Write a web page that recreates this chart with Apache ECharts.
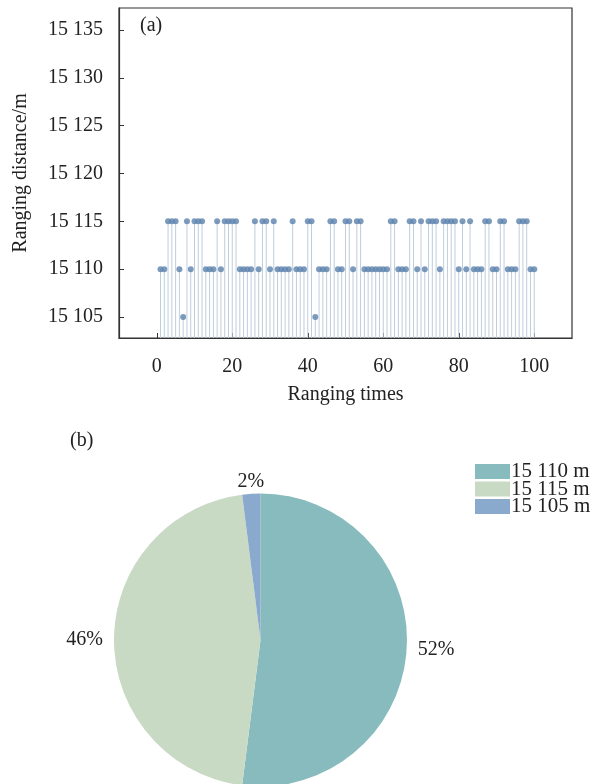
<!DOCTYPE html>
<html>
<head>
<meta charset="utf-8">
<script src="https://cdn.jsdelivr.net/npm/echarts@6/dist/echarts.min.js"></script>
<style>
html,body{margin:0;padding:0;background:#fff;}
#chart{width:604px;height:784px;}
</style>
</head>
<body>
<div id="chart"></div>
<script>
// ---- data (a) ----
var distances = [
  15110,15110,15115,15115,15115,15110,15105,15115,15110,15115,
  15115,15115,15110,15110,15110,15115,15110,15115,15115,15115,
  15115,15110,15110,15110,15110,15115,15110,15115,15115,15110,
  15115,15110,15110,15110,15110,15115,15110,15110,15110,15115,
  15115,15105,15110,15110,15110,15115,15115,15110,15110,15115,
  15115,15110,15115,15115,15110,15110,15110,15110,15110,15110,
  15110,15115,15115,15110,15110,15110,15115,15115,15110,15115,
  15110,15115,15115,15115,15110,15115,15115,15115,15115,15110,
  15115,15110,15115,15110,15110,15110,15115,15115,15110,15110,
  15115,15115,15110,15110,15110,15115,15115,15115,15110,15110
];
var yTicks = [15105,15110,15115,15120,15125,15130,15135];
var xTicks = [0,20,40,60,80,100];

// ---- data (b) ----
var pieNames = ['15 110 m','15 115 m','15 105 m'];
var pieValues = [52,46,2];
var pieColors = ['#88bbbe','#c9dac4','#8aaacd'];

var FONT = 'Liberation Serif, Times New Roman, serif';
var points = distances.map(function(v,i){ return [i+1, v]; });
var yMin = 15102.8, yMax = 15137.3;

var chart = echarts.init(document.getElementById('chart'), null, {renderer:'canvas'});
chart.setOption({
  animation:false,
  backgroundColor:'#fff',
  textStyle:{fontFamily:FONT},
  grid:{left:119, right:32, top:8, bottom:446, show:true, borderColor:'#333', borderWidth:1.2, backgroundColor:'transparent'},
  xAxis:{
    type:'value', min:-10, max:110,
    name:'Ranging times', nameLocation:'middle', nameGap:47,
    nameTextStyle:{fontFamily:FONT, fontSize:20, color:'#222'},
    axisLine:{show:true, onZero:false, lineStyle:{color:'#333', width:1.2}},
    axisTick:{show:true, inside:true, length:5, customValues:xTicks, lineStyle:{color:'#333'}},
    axisLabel:{customValues:xTicks, margin:19, fontFamily:FONT, fontSize:20, color:'#222'},
    splitLine:{show:false}
  },
  yAxis:{
    type:'value', min:yMin, max:yMax,
    name:'Ranging distance/m', nameLocation:'middle', nameGap:88,
    nameTextStyle:{fontFamily:FONT, fontSize:20, color:'#222'},
    axisLine:{show:true, onZero:false, lineStyle:{color:'#333', width:1.2}},
    axisTick:{show:true, inside:true, length:5, customValues:yTicks, lineStyle:{color:'#333'}},
    axisLabel:{customValues:yTicks, margin:16, fontFamily:FONT, fontSize:20, color:'#222',
      formatter:function(v){ var s=String(Math.round(v)); return s.slice(0,s.length-3)+' '+s.slice(-3); }},
    splitLine:{show:false}
  },
  legend:{
    orient:'vertical', left:470, top:456,
    itemWidth:35, itemHeight:15, itemGap:-3.5,
    icon:'rect',
    textStyle:{fontFamily:FONT, fontSize:21, color:'#222', padding:[0,0,0,-4]},
    data:pieNames
  },
  graphic:[
    {type:'text', left:140, top:16, style:{text:'(a)', font:'20px '+FONT, fill:'#222'}},
    {type:'text', left:70, top:431, style:{text:'(b)', font:'20px '+FONT, fill:'#222'}}
  ],
  series:[
    {
      type:'custom',
      clip:true,
      data:points,
      renderItem:function(params, api){
        var x = api.value(0), y = api.value(1);
        var p1 = api.coord([x, y]);
        var p0 = api.coord([x, yMin]);
        return {type:'line', shape:{x1:p1[0], y1:p1[1], x2:p0[0], y2:p0[1]},
          style:{stroke:'#bfcddc', lineWidth:1}};
      },
      z:2
    },
    {
      type:'scatter',
      data:points,
      symbol:'circle', symbolSize:6,
      itemStyle:{color:'#5b82ad'},
      z:3
    },
    {
      type:'pie',
      center:[260.5, 640],
      radius:146.5,
      startAngle:90,
      clockwise:true,
      silent:true,
      label:{show:true, position:'outside', fontFamily:FONT, fontSize:20, color:'#222',
        formatter:function(p){ return Math.round(p.percent)+'%'; }},
      labelLine:{show:false, length:3, length2:3},
      labelLayout:function(params){
        if (params.dataIndex === 2) { return {dx:21, dy:-9}; }
        return {};
      },
      itemStyle:{borderWidth:0},
      data:pieNames.map(function(n,i){ return {name:n, value:pieValues[i], itemStyle:{color:pieColors[i]}}; })
    }
  ]
});
</script>
</body>
</html>
